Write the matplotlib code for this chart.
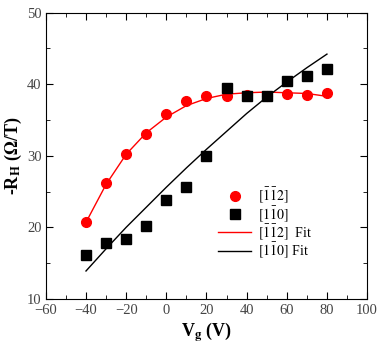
import numpy as np
import matplotlib
matplotlib.use("Agg")
import matplotlib.pyplot as plt
from matplotlib.ticker import MultipleLocator

plt.rcParams['font.family'] = ['Liberation Serif', 'DejaVu Serif']
plt.rcParams['mathtext.fontset'] = 'stix'

# measured points
vg = [-40, -30, -20, -10, 0, 10, 20, 30, 40, 50, 60, 70, 80]
rh_112 = [20.7, 26.2, 30.3, 33.0, 35.8, 37.7, 38.3, 38.3, 38.5, 38.4, 38.6, 38.5, 38.7]
rh_110 = [16.2, 17.8, 18.4, 20.2, 23.8, 25.7, 30.0, 39.4, 38.4, 38.4, 40.4, 41.2, 42.1]

# fit curves
fit_112 = [20.7, 26.0, 30.2, 33.2, 35.4, 37.0, 38.0, 38.6, 38.8, 38.9, 38.8, 38.7, 38.3]
fit_110 = [13.9, 17.0, 20.0, 22.8, 25.6, 28.3, 30.9, 33.4, 35.9, 38.2, 40.3, 42.3, 44.2]

x_ticks = [-60, -40, -20, 0, 20, 40, 60, 80, 100]

lab_112 = r'$[\bar{1}\bar{1}2]$'
lab_110 = r'$[1\bar{1}0]$'

fig = plt.figure(figsize=(3.82, 3.5), dpi=100)
ax = fig.add_axes([0.120, 0.146, 0.841, 0.818])

ax.plot(vg, rh_112, 'o', color='#ff0000', ms=7, label=lab_112, zorder=3)
ax.plot(vg, rh_110, 's', color='black', ms=7, label=lab_110, zorder=3)
ax.plot(vg, fit_112, '-', color='#ff0000', lw=1, label=lab_112 + '  Fit')
ax.plot(vg, fit_110, '-', color='black', lw=1, label=lab_110 + ' Fit')

ax.set_xticks(x_ticks)
ax.set_xticklabels([str(t).replace('-', '\u2212') for t in x_ticks])
ax.set_xlim(-60, 100)
ax.set_ylim(10, 50)
ax.xaxis.set_minor_locator(MultipleLocator(10))
ax.yaxis.set_major_locator(MultipleLocator(10))
ax.yaxis.set_minor_locator(MultipleLocator(5))
ax.tick_params(which='both', direction='in', top=True, right=True,
               labelsize=10.5, labelcolor='#444444')
ax.tick_params(axis='x', pad=4)
ax.tick_params(axis='y', pad=3)
ax.tick_params(which='major', length=5)
ax.tick_params(which='minor', length=3)

ax.set_xlabel(r'V$_\mathbf{g}$ (V)', fontsize=13, fontweight='bold', labelpad=2)
ax.set_ylabel(r'-R$_\mathbf{H}$ ($\mathbf{\Omega}$/T)', fontsize=13, fontweight='bold', labelpad=2)

ax.legend(loc='lower right', bbox_to_anchor=(0.83, 0.135), frameon=False,
          fontsize=10, handlelength=2.4, handletextpad=0.5, labelspacing=-0.12,
          borderaxespad=0, borderpad=0)

fig.savefig('out.png', dpi=100)
